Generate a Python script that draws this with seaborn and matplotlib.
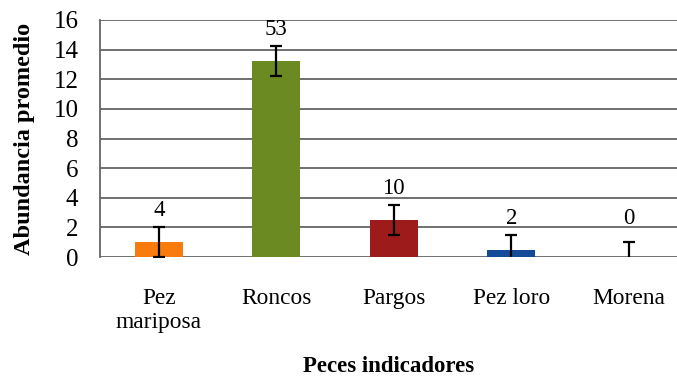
import numpy as np
import pandas as pd
import matplotlib
matplotlib.use("Agg")
import matplotlib.pyplot as plt
import seaborn as sns

# Indicator fish: mean abundance per survey, error, and total count shown above each bar
especies = ["Pez\nmariposa", "Roncos", "Pargos", "Pez loro", "Morena"]
abundancia = [1.0, 13.25, 2.5, 0.5, 0.0]
error = [1.0, 1.0, 1.0, 1.0, 1.0]
totales = ["4", "53", "10", "2", "0"]
colores = ["#F87B0C", "#6B8A22", "#9D1B1B", "#154A98", "#7F7F7F"]
y_ticks = [0, 2, 4, 6, 8, 10, 12, 14, 16]

df = pd.DataFrame({"especie": especies, "abundancia": abundancia})

sns.set_style("white")
plt.rcParams["font.family"] = ["Liberation Serif", "DejaVu Serif"]
plt.rcParams["text.color"] = "black"
plt.rcParams["axes.labelcolor"] = "black"
plt.rcParams["xtick.color"] = "black"
plt.rcParams["ytick.color"] = "black"

grid_gris = "#656565"

fig = plt.figure(figsize=(6.77, 3.84), dpi=100)
ax = fig.add_axes([100 / 677, 1 - 257 / 384, 587.5 / 677, 237 / 384])

sns.barplot(data=df, x="especie", y="abundancia", hue="especie",
            palette=colores, width=0.41, saturation=1, legend=False,
            linewidth=0, ax=ax, zorder=3)

# Error bars and total-count labels, placed from the drawn bars
for patch, m, e, txt in zip(ax.patches, abundancia, error, totales):
    xc = patch.get_x() + patch.get_width() / 2
    ax.errorbar(xc, m, yerr=e, fmt="none", ecolor="black",
                elinewidth=1.6, capsize=4.4, capthick=1.6, zorder=4)
    ytxt = max(m + e, 1.5) + 0.4
    ax.text(xc, ytxt, txt, ha="center", va="bottom", fontsize=16.5,
            color="black", zorder=5)

ax.set_xlim(-0.5, 4.5)
ax.set_ylim(0, 16)
ax.set_yticks(y_ticks)
ax.set_yticklabels([str(t) for t in y_ticks], fontsize=18)
ax.tick_params(axis="y", length=5.5, width=1.3, color=grid_gris,
               labelcolor="black", pad=10)
ax.tick_params(axis="x", length=0, labelsize=16.8, labelcolor="black", pad=22)

ax.yaxis.grid(True, color=grid_gris, linewidth=1.3, zorder=0)
ax.set_axisbelow(True)
for side in ["top", "right", "bottom"]:
    ax.spines[side].set_visible(False)
ax.spines["left"].set_color(grid_gris)
ax.spines["left"].set_linewidth(1.3)

ax.set_xlabel("Peces indicadores", fontsize=16.5, fontweight="bold",
              color="black", va="center")
ax.set_ylabel("Abundancia promedio", fontsize=17.5, fontweight="bold",
              color="black", va="center")
ax.xaxis.set_label_coords((389 - 100) / 587.5, -(366 - 257) / 237)
ax.yaxis.set_label_coords(-(100 - 24) / 587.5, 0.5)

fig.savefig("out.png", dpi=100)
